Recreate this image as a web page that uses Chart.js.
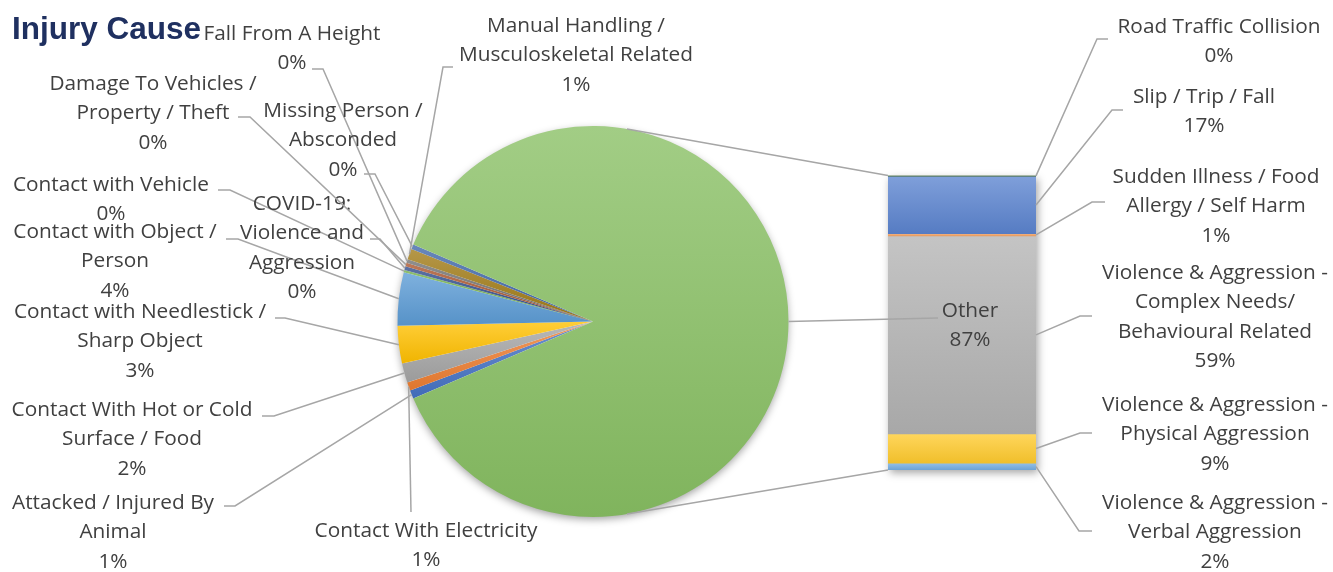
<!DOCTYPE html>
<html>
<head>
<meta charset="utf-8">
<title>Injury Cause</title>
<script src="https://cdn.jsdelivr.net/npm/chart.js@4.4.1/dist/chart.umd.min.js"></script>
<style>
  html, body { margin: 0; padding: 0; background: #fff; }
  #wrap { position: relative; width: 1333px; height: 572px; overflow: hidden; }
  #barChart { position: absolute; left: 870px; top: 160px; }
  #pieChart { position: absolute; left: 0; top: 0; }
</style>
</head>
<body>
<div id="wrap">
  <canvas id="barChart" width="190" height="330"></canvas>
  <canvas id="pieChart" width="1333" height="572"></canvas>
</div>
<script>
// share of incidents (%) by cause, pie part
const mainCauses = [
  "Attacked / Injured By Animal",
  "Contact With Electricity",
  "Contact With Hot or Cold Surface / Food",
  "Contact with Needlestick / Sharp Object",
  "Contact with Object / Person",
  "Contact with Vehicle",
  "COVID-19: Violence and Aggression",
  "Damage To Vehicles / Property / Theft",
  "Fall From A Height",
  "Manual Handling / Musculoskeletal Related",
  "Missing Person / Absconded"
];
const mainValues = [0.7, 0.7, 1.6, 3.1, 4.4, 0.2, 0.3, 0.3, 0.3, 0.9, 0.4];

// causes grouped into the "Other" slice, shown in the stacked bar
const otherName = "Other";
const otherCauses = [
  "Road Traffic Collision",
  "Slip / Trip / Fall",
  "Sudden Illness / Food Allergy / Self Harm",
  "Violence & Aggression - Complex Needs/ Behavioural Related",
  "Violence & Aggression - Physical Aggression",
  "Violence & Aggression - Verbal Aggression"
];
const otherValues = [0.2, 17.0, 0.7, 58.5, 8.7, 2.0];

const sum = arr => arr.reduce((a, b) => a + b, 0);
const otherTotal = sum(otherValues);
const grandTotal = sum(mainValues) + otherTotal;
const pct = v => Math.round(v / grandTotal * 100) + "%";

const pieColors = ["#4472C4", "#ED7D31", "#A5A5A5", "#FFC000", "#5B9BD5", "#70AD47",
                   "#2E4A8A", "#A9532A", "#707070", "#A07A14", "#3F66A8", "#88BF63"];
const barColors = ["#43682B", "#5B84CF", "#F4A262", "#B3B3B3", "#FFCB2E", "#74ADE2"];

// label placement: centre x, first line centre y, wrap width, leader elbow points
const mainLabelPos = [
  { x: 113, y: 503, wrap: 225, leader: [[224, 506], [235, 506]] },
  { x: 426, y: 531, wrap: 300, leader: [[411, 512]] },
  { x: 132, y: 410, wrap: 262, leader: [[262, 416], [274, 416]] },
  { x: 140, y: 312, wrap: 272, leader: [[275, 318], [285, 318]] },
  { x: 115, y: 232, wrap: 225, leader: [[226, 239], [238, 239]] },
  { x: 111, y: 185, wrap: 220, leader: [[218, 190], [230, 190]] },
  { x: 302, y: 204, wrap: 150, leader: [[370, 239], [380, 239]] },
  { x: 153, y: 84, wrap: 235, leader: [[238, 117], [250, 117]] },
  { x: 292, y: 34, wrap: 250, leader: [[312, 69], [323, 69]] },
  { x: 576, y: 26, wrap: 255, leader: [[453, 67], [443, 67]] },
  { x: 343, y: 111, wrap: 185, leader: [[364, 174], [375, 174]] }
];
const otherLabelPos = [
  { x: 1219, y: 27, wrap: 260, leader: [[1108, 39], [1097, 39]] },
  { x: 1204, y: 97, wrap: 260, leader: [[1123, 110], [1112, 110]] },
  { x: 1216, y: 177, wrap: 225, leader: [[1105, 202], [1092, 202]] },
  { x: 1215, y: 273, wrap: 250, leader: [[1092, 316], [1080, 316]] },
  { x: 1215, y: 405, wrap: 250, leader: [[1092, 433], [1080, 433]] },
  { x: 1215, y: 503, wrap: 250, leader: [[1092, 531], [1079, 531]] }
];
const otherSliceLabel = { x: 970, y: 311, leader: [[938, 318]] };

const LABEL_FONT = '20.8px "Open Sans"';
const TITLE_FONT = 'bold 31.5px "Liberation Sans"';
const LINE_H = 29.3;
const TEXT_COLOR = "#404040";
const LINE_COLOR = "#A6A6A6";

function hexRgb(h) {
  const n = parseInt(h.slice(1), 16);
  return [(n >> 16) & 255, (n >> 8) & 255, n & 255];
}
function mix(hex, target, t) {
  const a = hexRgb(hex), b = hexRgb(target);
  const c = a.map((v, i) => Math.round(v + (b[i] - v) * t));
  return "rgb(" + c.join(",") + ")";
}
function gradient(ctx, base, y0, y1) {
  if (!isFinite(y0) || !isFinite(y1) || y1 - y0 < 1) return base;
  const g = ctx.createLinearGradient(0, y0, 0, y1);
  g.addColorStop(0, mix(base, "#ffffff", 0.22));
  g.addColorStop(1, mix(base, "#000000", 0.06));
  return g;
}

function wrapText(ctx, text, maxW) {
  const words = text.split(" ");
  const lines = [];
  let cur = "";
  for (const w of words) {
    const t = cur ? cur + " " + w : w;
    if (cur && ctx.measureText(t).width > maxW) {
      lines.push(cur);
      cur = w;
    } else {
      cur = t;
    }
  }
  if (cur) lines.push(cur);
  return lines;
}

function drawLabel(ctx, lines, pos) {
  ctx.fillStyle = TEXT_COLOR;
  ctx.textAlign = "center";
  ctx.textBaseline = "middle";
  lines.forEach((l, i) => ctx.fillText(l, pos.x, pos.y + i * LINE_H));
}

function drawLeader(ctx, pts) {
  ctx.beginPath();
  ctx.moveTo(pts[0][0], pts[0][1]);
  for (let i = 1; i < pts.length; i++) ctx.lineTo(pts[i][0], pts[i][1]);
  ctx.stroke();
}

// vertical extent of a pie slice, used for its gradient
function sliceExtent(values, index, rotationDeg, area) {
  const cx = (area.left + area.right) / 2, cy = (area.top + area.bottom) / 2;
  const r = Math.min(area.right - area.left, area.bottom - area.top) / 2;
  const tot = sum(values);
  const before = sum(values.slice(0, index));
  const a0 = (rotationDeg - 90 + before / tot * 360) * Math.PI / 180;
  const a1 = (rotationDeg - 90 + (before + values[index]) / tot * 360) * Math.PI / 180;
  const ys = [cy, cy + r * Math.sin(a0), cy + r * Math.sin(a1)];
  for (let k = -2; k <= 4; k++) {
    const a = (k + 0.5) * Math.PI;
    if (a > a0 && a < a1) ys.push(cy + r * Math.sin(a));
  }
  return [Math.min(...ys), Math.max(...ys)];
}

function build() {
  // ---- stacked bar breaking down "Other" ----
  const barCanvas = document.getElementById("barChart");
  const barShadow = {
    id: "barShadow",
    beforeDatasetsDraw(chart) {
      const { ctx, chartArea: a } = chart;
      ctx.save();
      ctx.shadowColor = "rgba(0,0,0,0.35)";
      ctx.shadowBlur = 8;
      ctx.shadowOffsetX = 2;
      ctx.shadowOffsetY = 3;
      ctx.fillStyle = "#fff";
      ctx.fillRect(a.left, a.top, a.right - a.left, a.bottom - a.top);
      ctx.restore();
    }
  };
  const barChart = new Chart(barCanvas, {
    type: "bar",
    data: {
      labels: [otherName],
      datasets: otherCauses.map((name, i) => ({
        label: name,
        data: [otherValues[i]],
        borderWidth: 0,
        barPercentage: 1,
        categoryPercentage: 1,
        backgroundColor: (c) => {
          const y = c.chart.scales && c.chart.scales.y;
          if (!y || c.dataIndex === undefined) return barColors[i];
          const before = sum(otherValues.slice(0, i));
          return gradient(c.chart.ctx, barColors[i],
            y.getPixelForValue(before), y.getPixelForValue(before + otherValues[i]));
        }
      }))
    },
    options: {
      responsive: false,
      animation: false,
      layout: { padding: { left: 18, right: 24, top: 15.5, bottom: 20 } },
      scales: {
        x: { stacked: true, display: false },
        y: { stacked: true, display: false, min: 0, max: otherTotal, reverse: true }
      },
      plugins: { legend: { display: false }, tooltip: { enabled: false } }
    },
    plugins: [barShadow]
  });

  // ---- pie with the "Other" slice centred on the right ----
  const pieValues = mainValues.concat([otherTotal]);
  const rotation = 90 + (otherTotal / grandTotal) * 180;

  const pieShadow = {
    id: "pieShadow",
    beforeDatasetsDraw(chart) {
      const arc = chart.getDatasetMeta(0).data[0];
      const ctx = chart.ctx;
      ctx.save();
      ctx.shadowColor = "rgba(0,0,0,0.4)";
      ctx.shadowBlur = 9;
      ctx.shadowOffsetY = 3;
      ctx.fillStyle = "#fff";
      ctx.beginPath();
      ctx.arc(arc.x, arc.y, arc.outerRadius - 1, 0, Math.PI * 2);
      ctx.fill();
      ctx.restore();
    }
  };

  const overlay = {
    id: "overlay",
    afterDraw(chart) {
      const ctx = chart.ctx;
      const arcs = chart.getDatasetMeta(0).data;
      const edge = (el) => {
        const mid = (el.startAngle + el.endAngle) / 2;
        return [el.x + Math.cos(mid) * el.outerRadius, el.y + Math.sin(mid) * el.outerRadius];
      };

      // bar geometry in page coordinates
      const ox = barCanvas.offsetLeft, oy = barCanvas.offsetTop;
      const bar = barChart.getDatasetMeta(0).data[0];
      const ys = barChart.scales.y;
      const bLeft = ox + bar.x - bar.width / 2, bRight = ox + bar.x + bar.width / 2;
      const bTop = oy + ys.getPixelForValue(0), bBottom = oy + ys.getPixelForValue(otherTotal);

      ctx.save();
      ctx.strokeStyle = LINE_COLOR;
      ctx.lineWidth = 1.5;

      // connector lines from the pie to the bar
      const otherArc = arcs[arcs.length - 1];
      const midO = (otherArc.startAngle + otherArc.endAngle) / 2;
      const spread = 80 * Math.PI / 180;
      const pTop = [otherArc.x + Math.cos(midO - spread) * otherArc.outerRadius,
                    otherArc.y + Math.sin(midO - spread) * otherArc.outerRadius];
      const pBot = [otherArc.x + Math.cos(midO + spread) * otherArc.outerRadius,
                    otherArc.y + Math.sin(midO + spread) * otherArc.outerRadius];
      drawLeader(ctx, [pTop, [bLeft, bTop]]);
      drawLeader(ctx, [pBot, [bLeft, bBottom]]);

      ctx.font = LABEL_FONT;

      // pie slice labels
      mainCauses.forEach((name, i) => {
        const pos = mainLabelPos[i];
        drawLeader(ctx, pos.leader.concat([edge(arcs[i])]));
        drawLabel(ctx, wrapText(ctx, name, pos.wrap).concat([pct(mainValues[i])]), pos);
      });

      // bar segment labels
      otherCauses.forEach((name, i) => {
        const pos = otherLabelPos[i];
        const before = sum(otherValues.slice(0, i));
        const yMid = oy + ys.getPixelForValue(before + otherValues[i] / 2);
        drawLeader(ctx, pos.leader.concat([[bRight, yMid]]));
        drawLabel(ctx, wrapText(ctx, name, pos.wrap).concat([pct(otherValues[i])]), pos);
      });

      // "Other" label sitting on the bar
      drawLeader(ctx, [edge(otherArc)].concat(otherSliceLabel.leader));
      drawLabel(ctx, [otherName, pct(otherTotal)], otherSliceLabel);

      // title
      ctx.font = TITLE_FONT;
      ctx.fillStyle = "#1F3060";
      ctx.textAlign = "left";
      ctx.textBaseline = "alphabetic";
      ctx.fillText("Injury Cause", 12, 39);
      ctx.restore();
    }
  };

  new Chart(document.getElementById("pieChart"), {
    type: "pie",
    data: {
      labels: mainCauses.concat([otherName]),
      datasets: [{
        data: pieValues,
        borderWidth: 0,
        backgroundColor: (c) => {
          const base = pieColors[c.dataIndex];
          const area = c.chart.chartArea;
          if (c.dataIndex === undefined || !area) return base || pieColors[0];
          const [y0, y1] = sliceExtent(pieValues, c.dataIndex, rotation, area);
          return gradient(c.chart.ctx, base, y0, y1);
        }
      }]
    },
    options: {
      responsive: false,
      animation: false,
      rotation: rotation,
      layout: { padding: { left: 397, right: 544, top: 126, bottom: 55 } },
      plugins: { legend: { display: false }, tooltip: { enabled: false } }
    },
    plugins: [pieShadow, overlay]
  });
}

if (document.fonts && document.fonts.load) {
  Promise.all([
    document.fonts.load(LABEL_FONT),
    document.fonts.load(TITLE_FONT)
  ]).then(build, build);
} else {
  build();
}
</script>
</body>
</html>
